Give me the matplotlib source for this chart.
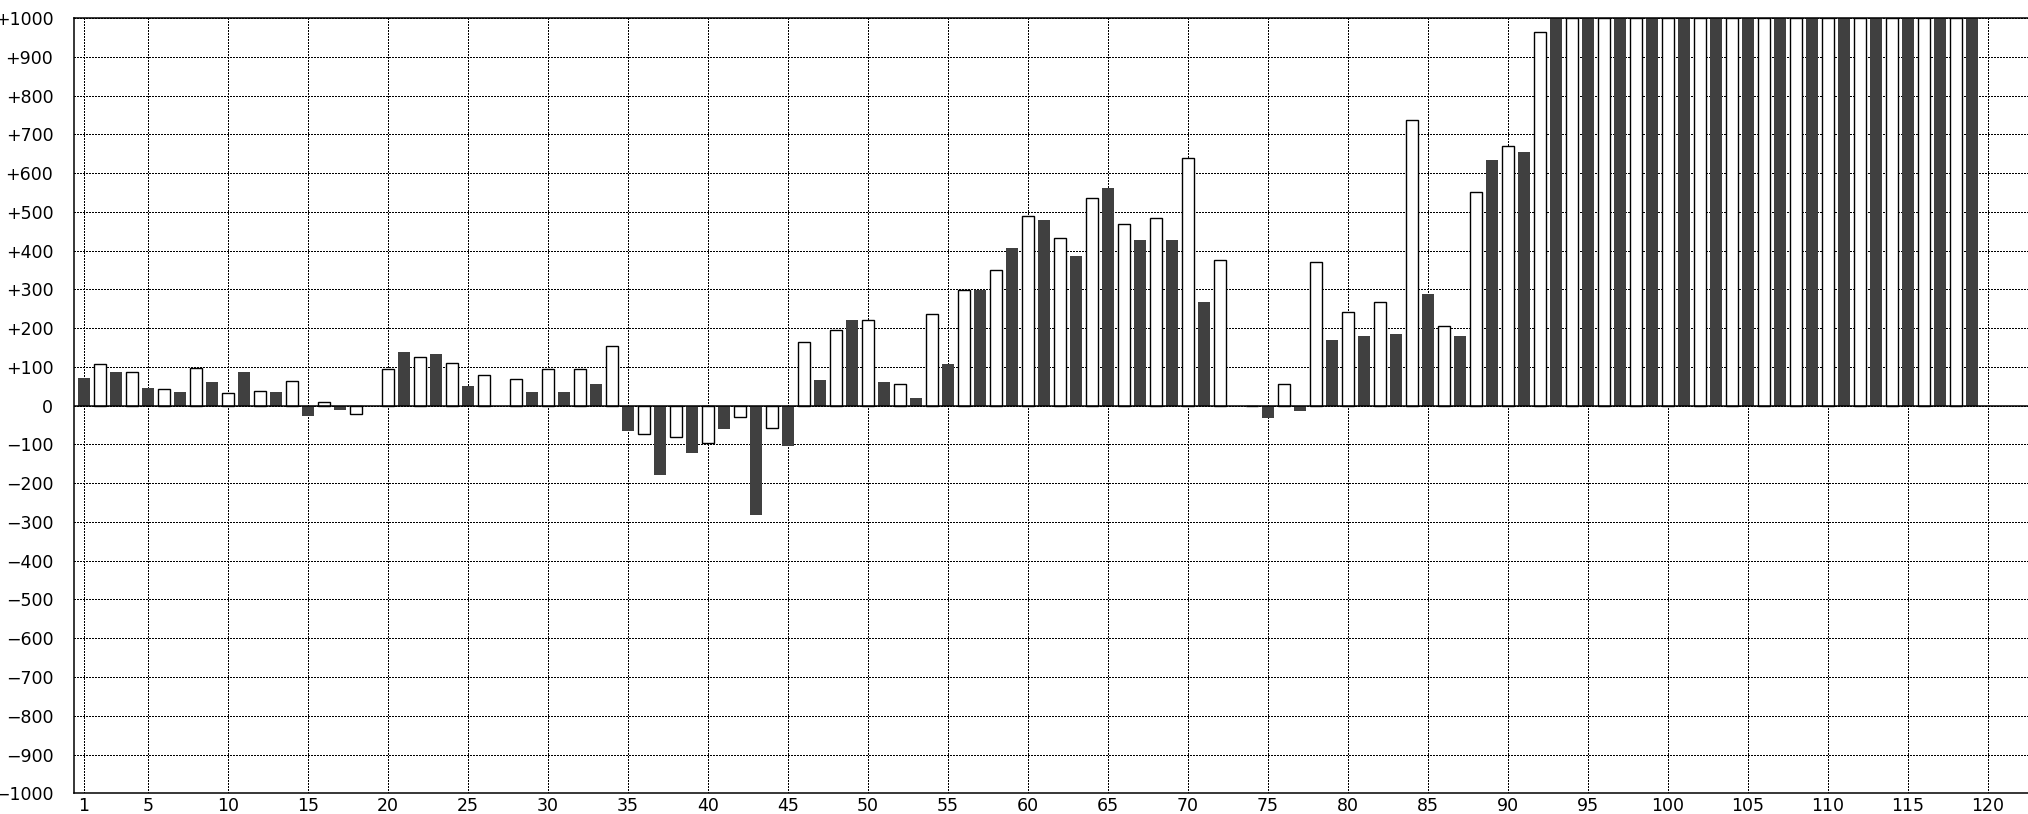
import numpy as np
import matplotlib
matplotlib.use("Agg")
import matplotlib.pyplot as plt

# bar values for positions 1..119 (bars 93+ run off the top of the +1000 scale)
positions = list(range(1, 120))
values = [
    72, 108, 87, 88, 46, 42, 35, 98, 61, 32,
    87, 37, 35, 63, -26, 10, -10, -22, 0, 95,
    139, 125, 134, 109, 51, 78, 0, 68, 36, 94,
    36, 94, 57, 155, -66, -72, -179, -82, -122, -97,
    -61, -30, -282, -57, -103, 165, 66, 195, 221, 222,
    61, 57, 20, 237, 107, 298, 298, 350, 406, 490,
    478, 433, 386, 536, 561, 469, 427, 485, 427, 639,
    267, 376, 0, 0, -31, 57, -15, 371, 169, 242,
    180, 268, 185, 737, 288, 206, 180, 552, 633, 670,
    654, 964,
] + [1000] * 27

x_ticks = [1] + list(range(5, 121, 5))
y_ticks = list(range(-1000, 1001, 100))
y_labels = ["0" if v == 0 else ("+%d" % v if v > 0 else "\u2212%d" % -v) for v in y_ticks]

pos = np.array(positions)
vals = np.array(values, dtype=float)
odd = pos % 2 == 1

fig = plt.figure(figsize=(20.28, 8.14), dpi=100)
ax = fig.add_axes([73.5 / 2028, 20.7 / 814, 1 - 73.5 / 2028, (796 - 20.7) / 814])

ax.bar(pos[odd], vals[odd], width=0.75, color="#404040", edgecolor="none", zorder=2)
ax.bar(pos[~odd], vals[~odd], width=0.72, color="white", edgecolor="black",
       linewidth=1.0, zorder=2)
ax.axhline(0, color="black", linewidth=1.1, zorder=3)

ax.set_xlim(0.36, 122.5)
ax.set_ylim(-1000, 1000)
ax.set_xticks(x_ticks)
ax.set_yticks(y_ticks)
ax.set_yticklabels(y_labels)
ax.tick_params(axis="y", length=0, pad=14.5, labelsize=12.5, labelcolor="black")
ax.tick_params(axis="x", length=0, pad=2.5, labelsize=12.5, labelcolor="black")

ax.set_axisbelow(True)
ax.grid(True, color="black", linestyle=(0, (1.4, 1.4)), linewidth=0.72,
        antialiased=False)

for s in ["left", "top", "bottom"]:
    ax.spines[s].set_linewidth(1.1)
ax.spines["right"].set_visible(False)

fig.savefig("out.png", dpi=100)
